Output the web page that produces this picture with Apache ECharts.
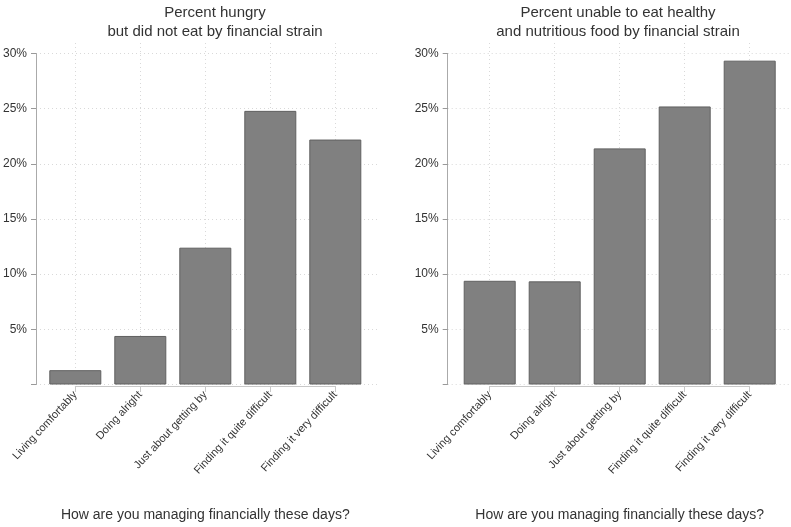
<!DOCTYPE html>
<html>
<head>
<meta charset="utf-8">
<script src="https://cdn.jsdelivr.net/npm/echarts@6/dist/echarts.min.js"></script>
<style>html,body{margin:0;padding:0;background:#fff;}#c{width:791px;height:527px;}</style>
</head>
<body>
<div id="c"></div>
<script>
const categories = ['Living comfortably', 'Doing alright', 'Just about getting by', 'Finding it quite difficult', 'Finding it very difficult'];
const hungryValues = [1.3, 4.4, 12.4, 24.8, 22.2];
const unhealthyValues = [9.4, 9.35, 21.4, 25.2, 29.35];
const yTickValues = [5, 10, 15, 20, 25, 30];
const leftTitle = 'Percent hungry\nbut did not eat by financial strain';
const rightTitle = 'Percent unable to eat healthy\nand nutritious food by financial strain';
const xAxisName = 'How are you managing financially these days?';

const W = 791, H = 527;
const FONT = 'Liberation Sans, Arial, sans-serif';
const TXT = '#333';
const yTop = 53.5, yBottom = 384.5;       // 30% and 0% pixel rows
const band = 65;                           // category width
const pad = 9.5;                           // gap between y axis line and first band

const grids = [], xAxes = [], yAxes = [], series = [], titles = [];

function addPanel(axisX, values, titleText, titleX) {
  const g0 = grids.length;
  const bandStart = axisX + pad;
  const bandEnd = bandStart + band * categories.length;
  const firstC = bandStart + band / 2, lastC = bandEnd - band / 2;
  const plotRight = bandEnd + pad;
  // grid A: y axis, labels, horizontal gridlines
  grids.push({left: axisX, right: W - plotRight, top: yTop, bottom: H - yBottom});
  xAxes.push({gridIndex: g0, type: 'value', min: 0, max: 1, show: false});
  yAxes.push({gridIndex: g0, type: 'value', min: 0, max: 30, interval: 5,
    axisLine: {show: true, lineStyle: {color: '#aaaaaa', width: 1}},
    axisTick: {show: true, inside: false, length: 5, lineStyle: {color: '#999999', width: 1}},
    axisLabel: {color: TXT, fontSize: 12, fontFamily: FONT, margin: 9, customValues: yTickValues,
      formatter: v => v + '%'},
    splitLine: {show: true, lineStyle: {color: '#d9d9d9', type: [1, 3], width: 1}}
  });
  // grid B: categorical x axis line, ticks, labels, vertical gridlines
  grids.push({left: firstC, right: W - lastC, top: 43, bottom: H - 394});
  xAxes.push({gridIndex: g0 + 1, type: 'category', data: categories, boundaryGap: false,
    axisLine: {show: true, onZero: false, lineStyle: {color: '#c8c8c8', width: 1}},
    axisTick: {show: true, length: 6, lineStyle: {color: '#c8c8c8'}},
    axisLabel: {rotate: 47, color: TXT, fontSize: 11, fontFamily: FONT, margin: 7, interval: 0},
    splitLine: {show: true, lineStyle: {color: '#d9d9d9', type: [1, 3], width: 1}},
    name: xAxisName, nameLocation: 'middle', nameGap: 122,
    nameTextStyle: {color: TXT, fontSize: 14, fontFamily: FONT}
  });
  yAxes.push({gridIndex: g0 + 1, type: 'value', min: 0, max: 1, show: false, splitLine: {show: false}});
  // grid C: bars
  grids.push({left: bandStart, right: W - bandEnd, top: yTop, bottom: H - yBottom});
  xAxes.push({gridIndex: g0 + 2, type: 'category', data: categories, show: false});
  yAxes.push({gridIndex: g0 + 2, type: 'value', min: 0, max: 30, show: false, splitLine: {show: false}});
  series.push({type: 'bar', xAxisIndex: g0 + 2, yAxisIndex: g0 + 2, data: values, barWidth: '80%',
    itemStyle: {color: '#808080', borderColor: '#606060', borderWidth: 1}, silent: true});
  titles.push({text: titleText, left: titleX, top: 4, padding: 0, textAlign: 'center',
    textStyle: {color: TXT, fontSize: 15, fontWeight: 'normal', fontFamily: FONT, lineHeight: 18.5}});
}

addPanel(33.3, hungryValues, leftTitle, 215);
addPanel(447.7, unhealthyValues, rightTitle, 618);

const chart = echarts.init(document.getElementById('c'), null, {renderer: 'canvas'});
chart.setOption({
  animation: false,
  backgroundColor: '#fff',
  title: titles,
  grid: grids,
  xAxis: xAxes,
  yAxis: yAxes,
  series: series
});
</script>
</body>
</html>
